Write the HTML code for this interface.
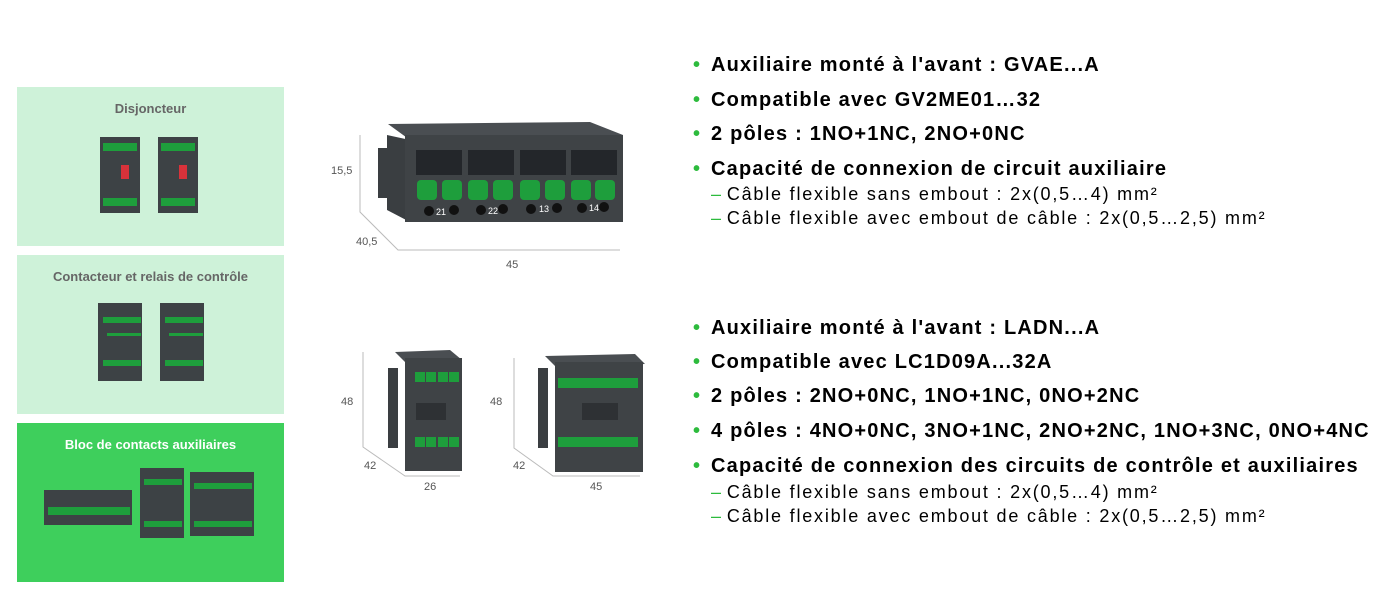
<!DOCTYPE html>
<html><head><meta charset="utf-8"><style>
body{margin:0;width:1400px;height:608px;background:#fff;position:relative;overflow:hidden;font-family:"Liberation Sans",sans-serif}
.p{position:absolute;left:17px;width:267px;height:159px;background:#cef2d9}
.p .t{position:absolute;top:14px;width:100%;text-align:center;font-weight:bold;font-size:13px;color:#666}
.abs{position:absolute}
.b{position:absolute;left:693px;font-size:20px;font-weight:bold;color:#000;white-space:nowrap;letter-spacing:1.2px}
.b:before{content:"•";color:#2dbb3d;position:absolute;left:0;}
.b span{margin-left:18px}
.s{position:absolute;left:711px;font-size:18px;color:#000;white-space:nowrap;letter-spacing:1.8px}
.s:before{content:"–";color:#2dbb3d;margin-right:4px}
.d{position:absolute;font-size:11px;color:#555}
</style></head><body>
<div class="p" style="top:87px"><div class="t">Disjoncteur</div>
<svg class="abs" style="left:80px;top:48px" width="110" height="80">
<g><rect x="3" y="2" width="40" height="76" fill="#3d4245"/><rect x="6" y="8" width="34" height="8" fill="#1e9e3c"/><rect x="6" y="63" width="34" height="8" fill="#1e9e3c"/><rect x="24" y="30" width="8" height="14" fill="#d8323a"/></g>
<g transform="translate(58,0)"><rect x="3" y="2" width="40" height="76" fill="#3d4245"/><rect x="6" y="8" width="34" height="8" fill="#1e9e3c"/><rect x="6" y="63" width="34" height="8" fill="#1e9e3c"/><rect x="24" y="30" width="8" height="14" fill="#d8323a"/></g>
</svg></div>
<div class="p" style="top:255px"><div class="t">Contacteur et relais de contrôle</div>
<svg class="abs" style="left:78px;top:42px" width="120" height="86">
<g><rect x="3" y="6" width="44" height="78" fill="#3d4245"/><rect x="8" y="20" width="38" height="6" fill="#1e9e3c"/><rect x="8" y="63" width="38" height="6" fill="#1e9e3c"/><rect x="12" y="36" width="34" height="3" fill="#1e9e3c"/></g>
<g transform="translate(62,0)"><rect x="3" y="6" width="44" height="78" fill="#3d4245"/><rect x="8" y="20" width="38" height="6" fill="#1e9e3c"/><rect x="8" y="63" width="38" height="6" fill="#1e9e3c"/><rect x="12" y="36" width="34" height="3" fill="#1e9e3c"/></g>
</svg></div>
<div class="p" style="top:423px;background:#3ecf5c"><div class="t" style="color:#fff">Bloc de contacts auxiliaires</div>
<svg class="abs" style="left:25px;top:40px" width="230" height="80">
<rect x="2" y="27" width="88" height="35" fill="#3d4245"/><rect x="6" y="44" width="82" height="8" fill="#1e9e3c"/>
<rect x="98" y="5" width="44" height="70" fill="#3d4245"/><rect x="102" y="16" width="38" height="6" fill="#1e9e3c"/><rect x="102" y="58" width="38" height="6" fill="#1e9e3c"/>
<rect x="148" y="9" width="64" height="64" fill="#3d4245"/><rect x="152" y="20" width="58" height="6" fill="#1e9e3c"/><rect x="152" y="58" width="58" height="6" fill="#1e9e3c"/>
</svg></div>

<svg class="abs" style="left:0;top:0" width="690" height="608">
<g stroke="#bbb" fill="none" stroke-width="1">
<path d="M360 135V212L398 250H620"/>
<path d="M363 352V447L405 476H460"/>
<path d="M514 358V448L553 476H640"/>
</g>
<polygon points="388,124 590,122 623,135 410,140" fill="#4a4e52"/>
<rect x="378" y="148" width="10" height="50" fill="#3a3e41"/>
<polygon points="387,135 410,140 410,222 387,210" fill="#3a3e41"/>
<rect x="405" y="135" width="218" height="87" fill="#3f4346"/>
<g fill="#23262a"><rect x="416" y="150" width="46" height="25"/><rect x="468" y="150" width="46" height="25"/><rect x="520" y="150" width="46" height="25"/><rect x="571" y="150" width="46" height="25"/></g>
<g fill="#1e9e3c"><rect x="417" y="180" width="20" height="20" rx="4"/><rect x="442" y="180" width="20" height="20" rx="4"/><rect x="468" y="180" width="20" height="20" rx="4"/><rect x="493" y="180" width="20" height="20" rx="4"/><rect x="520" y="180" width="20" height="20" rx="4"/><rect x="545" y="180" width="20" height="20" rx="4"/><rect x="571" y="180" width="20" height="20" rx="4"/><rect x="595" y="180" width="20" height="20" rx="4"/></g>
<g fill="#111"><circle cx="429" cy="211" r="5"/><circle cx="454" cy="210" r="5"/><circle cx="481" cy="210" r="5"/><circle cx="503" cy="209" r="5"/><circle cx="531" cy="209" r="5"/><circle cx="557" cy="208" r="5"/><circle cx="582" cy="208" r="5"/><circle cx="604" cy="207" r="5"/></g>
<g fill="#fff" font-size="9" font-family="Liberation Sans"><text x="436" y="215">21</text><text x="488" y="214">22</text><text x="539" y="212">13</text><text x="589" y="211">14</text></g>
<polygon points="395,352 450,350 462,360 405,362" fill="#4a4e52"/>
<rect x="388" y="368" width="10" height="80" fill="#3a3e41"/>
<rect x="405" y="358" width="57" height="113" fill="#3f4346"/>
<g fill="#1e9e3c"><rect x="415" y="372" width="10" height="10"/><rect x="426" y="372" width="10" height="10"/><rect x="438" y="372" width="10" height="10"/><rect x="449" y="372" width="10" height="10"/><rect x="415" y="437" width="10" height="10"/><rect x="426" y="437" width="10" height="10"/><rect x="438" y="437" width="10" height="10"/><rect x="449" y="437" width="10" height="10"/></g>
<rect x="416" y="403" width="30" height="17" fill="#2e3134"/>
<polygon points="545,356 635,354 645,364 555,366" fill="#4a4e52"/>
<rect x="538" y="368" width="10" height="80" fill="#3a3e41"/>
<rect x="555" y="362" width="88" height="110" fill="#3f4346"/>
<g fill="#1e9e3c"><rect x="558" y="378" width="80" height="10"/><rect x="558" y="437" width="80" height="10"/></g>
<rect x="582" y="403" width="36" height="17" fill="#2e3134"/>
</svg>
<div class="d" style="left:331px;top:165px">15,5</div>
<div class="d" style="left:356px;top:236px">40,5</div>
<div class="d" style="left:506px;top:259px">45</div>
<div class="d" style="left:341px;top:396px">48</div>
<div class="d" style="left:364px;top:460px">42</div>
<div class="d" style="left:424px;top:481px">26</div>
<div class="d" style="left:490px;top:396px">48</div>
<div class="d" style="left:513px;top:460px">42</div>
<div class="d" style="left:590px;top:481px">45</div>

<div class="b" style="top:54px"><span>Auxiliaire monté à l'avant : GVAE...A</span></div>
<div class="b" style="top:89px"><span>Compatible avec GV2ME01…32</span></div>
<div class="b" style="top:123px"><span>2 pôles : 1NO+1NC, 2NO+0NC</span></div>
<div class="b" style="top:158px"><span>Capacité de connexion de circuit auxiliaire</span></div>
<div class="s" style="top:184px">Câble flexible sans embout : 2x(0,5…4) mm²</div>
<div class="s" style="top:208px">Câble flexible avec embout de câble : 2x(0,5…2,5) mm²</div>

<div class="b" style="top:317px"><span>Auxiliaire monté à l'avant : LADN...A</span></div>
<div class="b" style="top:351px"><span>Compatible avec LC1D09A...32A</span></div>
<div class="b" style="top:385px"><span>2 pôles : 2NO+0NC, 1NO+1NC, 0NO+2NC</span></div>
<div class="b" style="top:420px"><span>4 pôles : 4NO+0NC, 3NO+1NC, 2NO+2NC, 1NO+3NC, 0NO+4NC</span></div>
<div class="b" style="top:455px"><span>Capacité de connexion des circuits de contrôle et auxiliaires</span></div>
<div class="s" style="top:482px">Câble flexible sans embout : 2x(0,5…4) mm²</div>
<div class="s" style="top:506px">Câble flexible avec embout de câble : 2x(0,5…2,5) mm²</div>
</body></html>
